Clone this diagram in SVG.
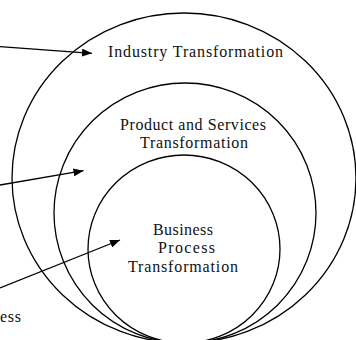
<svg xmlns="http://www.w3.org/2000/svg" width="356" height="340" viewBox="0 0 356 340">
<style>
.ring{fill:none;stroke:#000;stroke-width:1.3}
.arr{fill:none;stroke:#000;stroke-width:1.3}
.lbl{font-family:"Liberation Serif","Times New Roman",serif;font-size:16px;fill:#111;text-anchor:middle}
</style>
<defs>
<marker id="ah" markerUnits="userSpaceOnUse" markerWidth="11" markerHeight="8" refX="10" refY="4" orient="auto">
<path d="M0,0 L10,4 L0,8 z" fill="#000"/>
</marker>
</defs>
<rect width="356" height="340" fill="#fff"/>
<g id="outer">
<ellipse class="ring" cx="184" cy="178" rx="172" ry="165"/>
<text class="lbl" x="195.5" y="57" textLength="175" lengthAdjust="spacing">Industry Transformation</text>
</g>
<g id="middle">
<ellipse class="ring" cx="185" cy="213" rx="131" ry="130"/>
<text class="lbl" x="193" y="130" textLength="146" lengthAdjust="spacing">Product and Services</text>
<text class="lbl" x="194" y="148" textLength="108" lengthAdjust="spacing">Transformation</text>
</g>
<g id="inner">
<ellipse class="ring" cx="184" cy="249" rx="96" ry="94"/>
<text class="lbl" x="183" y="235" textLength="60" lengthAdjust="spacing">Business</text>
<text class="lbl" x="186.5" y="253" textLength="57" lengthAdjust="spacing">Process</text>
<text class="lbl" x="183" y="272" textLength="110" lengthAdjust="spacing">Transformation</text>
</g>
<g id="side-label">
<text class="lbl" x="0" y="322" style="text-anchor:start" textLength="21" lengthAdjust="spacing">ess</text>
</g>
<g id="connectors">
<line class="arr" x1="0" y1="46.7" x2="92" y2="53.3" marker-end="url(#ah)"/>
<line class="arr" x1="0" y1="185" x2="83.5" y2="170.7" marker-end="url(#ah)"/>
<line class="arr" x1="0" y1="288" x2="120" y2="240" marker-end="url(#ah)"/>
</g>
</svg>
